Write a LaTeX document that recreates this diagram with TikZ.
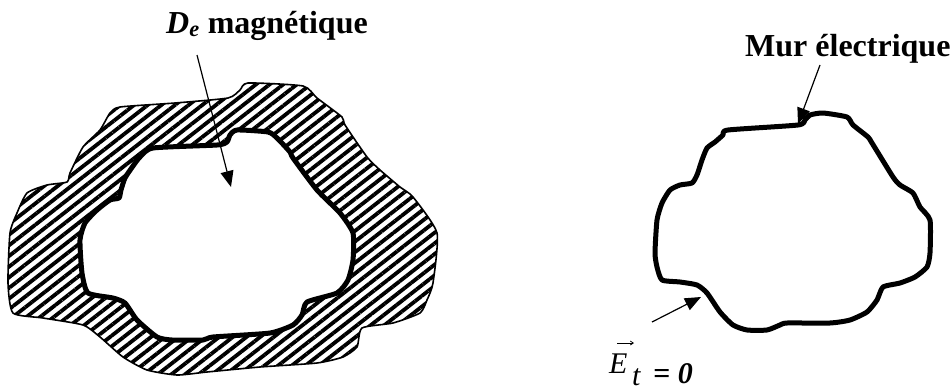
\documentclass[tikz,border=0pt]{standalone}
\usepackage{fontspec}
\setmainfont{Liberation Serif}
\usetikzlibrary{arrows.meta,patterns.meta}

\begin{document}
\begin{tikzpicture}[
    x=1pt, y=-1pt,
    outerline/.style={draw=black, line width=1.6pt},
    wall/.style={draw=black, line width=5pt, line join=round},
    hatch/.style={pattern={Lines[angle=38,distance=8.4pt,line width=3.8pt]}, pattern color=black},
    pointer/.style={draw=black, line width=1.2pt, -{Triangle[length=16pt,width=13pt]}},
    vecarrow/.style={draw=black, line width=0.8pt, -{Straight Barb[length=3pt,width=4pt]}},
    lbl/.style={font=\fontsize{32}{36}\selectfont\bfseries, inner sep=0pt},
    eqlbl/.style={font=\fontsize{30}{34}\selectfont\itshape, inner sep=0pt},
  ]

  \useasboundingbox (0,0) rectangle (951,391);

  % ---------- left: magnetic domain (hatched ring)
  \begin{scope}
    \path[hatch, outerline] plot[smooth cycle, tension=0.35] coordinates {
      (120,107) (175,103) (228,98) (240,90) (248,83) (303,86) (317,98)
      (342,117) (345,125) (367,157) (380,170) (400,187) (413,197) (437,233)
      (433,283) (427,300) (420,313) (393,323) (362,328) (357,347) (343,357)
      (317,363) (260,367) (207,372) (177,375) (147,370) (123,357) (100,337)
      (83,325) (43,318) (13,313) (8,283) (10,233) (17,213) (27,193) (47,185)
      (67,182) (70,173) (83,147) (100,130) (110,113)};
    \path[fill=white, wall] plot[smooth cycle, tension=0.35] coordinates {
      (153,148) (217,145) (227,142) (230,135) (237,130) (268,132) (277,138)
      (290,152) (293,158) (317,190) (340,213) (353,233) (353,260) (348,280)
      (337,293) (307,302) (302,315) (293,325) (270,333) (213,337) (203,340)
      (172,340) (157,337) (137,320) (125,303) (113,298) (88,293) (82,273)
      (80,240) (85,223) (97,210) (110,200) (119,198) (121,190) (125,178)
      (133,166) (140,157)};
    \node[lbl, anchor=base west] (de) at (166,33) {\textit{D\textsubscript{e}} magnétique};
    \coordinate (deTail) at (197,55);
    \coordinate (deHead) at (231,187);
    \draw[pointer] (deTail) -- (deHead);
  \end{scope}

  % ---------- right: electric wall
  \begin{scope}
    \path[wall] plot[smooth cycle, tension=0.35] coordinates {
      (728,130) (798,125) (805,120) (810,115) (823,113) (847,117) (853,125)
      (868,137) (872,143) (893,177) (900,185) (913,193) (920,207) (930,220)
      (930,253) (927,267) (915,277) (900,283) (883,287) (877,300) (867,312)
      (850,320) (830,323) (787,323) (780,325) (767,330) (747,330) (733,325)
      (720,312) (707,293) (697,285) (680,282) (662,280) (657,267) (655,253)
      (657,220) (662,203) (670,190) (680,185) (692,183) (697,175) (702,160)
      (707,148) (715,142) (723,135)};
    \node[lbl, anchor=base west] (mur) at (745,56) {Mur électrique};
    \coordinate (murTail) at (820,65);
    \coordinate (murHead) at (798,124);
    \draw[pointer] (murTail) -- (murHead);

    % E_t = 0
    \node[eqlbl, anchor=base west] (eE) at (609,373) {E};
    \node[eqlbl, anchor=base west] (eT) at (632,385) {t};
    \node[eqlbl, anchor=base west] (eZero) at (653,383) {\textbf{= 0}};
    \coordinate (vecL) at (617,343);
    \coordinate (vecR) at (634,343);
    \draw[vecarrow] (vecL) -- (vecR);
    \coordinate (etTail) at (652,322);
    \coordinate (etHead) at (701,297);
    \draw[pointer] (etTail) -- (etHead);
  \end{scope}

\end{tikzpicture}
\end{document}
